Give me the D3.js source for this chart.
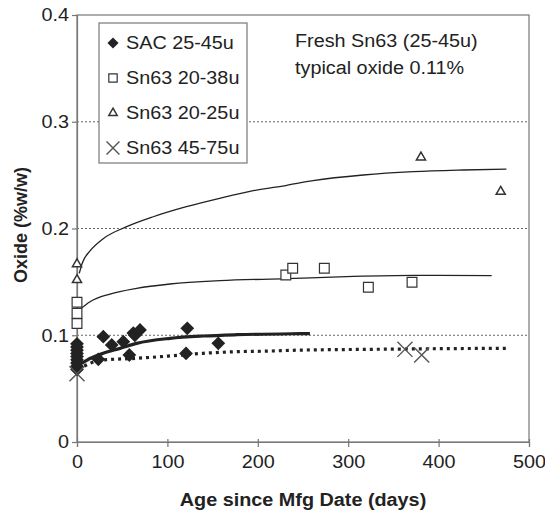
<!DOCTYPE html>
<html><head><meta charset="utf-8">
<script src="https://cdn.jsdelivr.net/npm/d3@7/dist/d3.min.js"></script>
<style>
html,body{margin:0;padding:0;background:#fff;}
svg{display:block;font-family:"Liberation Sans",Arial,Helvetica,sans-serif;}
</style></head>
<body><svg id="c" width="545" height="511"></svg>
<script>
// ---- data ----
const sacDays   = [0,0,0,0,0,0,0,0,0, 23.6,29.1,38.4,51.2,57.9,62.3,64,69.7,120.6,122,156.3];
const sacOxide  = [0.092,0.089,0.086,0.083,0.080,0.077,0.074,0.071,0.068, 0.0775,0.0987,0.0909,0.094,0.0815,0.102,0.100,0.105,0.083,0.1065,0.0924];
const sq2038Days  = [0,0,0, 231,238.6,273.6,322.3,370.6];
const sq2038Oxide = [0.131,0.1205,0.111, 0.1564,0.1627,0.1627,0.145,0.1496];
const tr2025Days  = [0,0, 380.5,468.7];
const tr2025Oxide = [0.1667,0.1518, 0.2667,0.2345];
const x4575Days   = [0, 362.8,381.3];
const x4575Oxide  = [0.064, 0.0868,0.0815];

// trend lines
const fitTrDays  = [2.5,6,14.4,29,55,84.4,121,158,195,232,261,316.7,372,427,475];
const fitTrOxide = [0.158,0.168,0.179,0.1905,0.2017,0.211,0.2204,0.2283,0.2354,0.2405,0.2448,0.2501,0.2532,0.2548,0.2557];
const fitSqDays  = [2.5,14.4,36.5,66,103,158,232,298,372,458.7];
const fitSqOxide = [0.1237,0.1314,0.1386,0.144,0.148,0.1511,0.1530,0.1549,0.1561,0.1558];
const fitSacDays  = [6,10.7,29,47.6,66,103,139.7,176.7,246.7,257.7];
const fitSacOxide = [0.074,0.0765,0.0831,0.0877,0.0924,0.0971,0.0993,0.1005,0.1015,0.1016];
const fitXDays  = [8,14.4,29,66,103,139.7,176.7,213.5,243,324,400,475];
const fitXOxide = [0.071,0.0737,0.0768,0.0784,0.0806,0.0831,0.0846,0.0852,0.0860,0.0868,0.0874,0.0878];

const xTicks = [0,100,200,300,400,500];
const yTicks = [0,0.1,0.2,0.3,0.4];
const gridValues = [0.1,0.2,0.3];
const legendLabels = ["SAC 25-45u","Sn63 20-38u","Sn63 20-25u","Sn63 45-75u"];
const noteLines = ["Fresh Sn63 (25-45u)","typical oxide 0.11%"];
const xTitle = "Age since Mfg Date (days)";
const yTitle = "Oxide (%w/w)";

// ---- layout ----
const L=77, R=529, T=15, B=442;
const STRETCH = 1.1;
const ink = "#222", axisCol="#777";
const svg = d3.select("#c");
const x = d3.scaleLinear().domain([0,500]).range([L,R]);
const y = d3.scaleLinear().domain([0,0.4]).range([B,T]);

// grid
svg.append("g").selectAll("line").data(gridValues).join("line")
  .attr("x1",L).attr("x2",R).attr("y1",d=>y(d)).attr("y2",d=>y(d))
  .attr("stroke","#666").attr("stroke-width",1).attr("stroke-dasharray","2,2");

// frame
svg.append("rect").attr("x",L).attr("y",T).attr("width",R-L).attr("height",B-T)
  .attr("fill","none").attr("stroke",axisCol).attr("stroke-width",1.2);

// axes
const xAxis = svg.append("g").attr("transform",`translate(0,${B})`)
  .call(d3.axisBottom(x).tickValues(xTicks).tickFormat(d3.format("d")).tickSize(5).tickPadding(8));
const yAxis = svg.append("g").attr("transform",`translate(${L},0)`)
  .call(d3.axisLeft(y).tickValues(yTicks).tickFormat(d=>d===0?"0":d3.format(".1f")(d)).tickSize(5).tickPadding(3));
[xAxis,yAxis].forEach(g=>{
  g.select(".domain").attr("stroke",axisCol).attr("stroke-width",1.2);
  g.selectAll(".tick line").attr("stroke",axisCol).attr("stroke-width",1.2);
  g.selectAll(".tick text").attr("fill",ink).attr("font-size",18)
   .attr("font-family","Liberation Sans, Arial, sans-serif").classed("stretch",true);
});
xAxis.selectAll(".tick line").attr("y1",-3);

// legend box
const lg = svg.append("g");
lg.append("rect").attr("x",99).attr("y",23).attr("width",148).attr("height",140)
  .attr("fill","#fff").attr("stroke",axisCol).attr("stroke-width",1.2);

// curves
const line = d3.line().x(d=>x(d[0])).y(d=>y(d[1])).curve(d3.curveMonotoneX);
const zip=(a,b)=>a.map((v,i)=>[v,b[i]]);
svg.append("path").datum(zip(fitTrDays,fitTrOxide)).attr("d",line)
  .attr("fill","none").attr("stroke",ink).attr("stroke-width",1.3);
svg.append("path").datum(zip(fitSqDays,fitSqOxide)).attr("d",line)
  .attr("fill","none").attr("stroke",ink).attr("stroke-width",1.3);
svg.append("path").datum(zip(fitSacDays,fitSacOxide)).attr("d",line)
  .attr("fill","none").attr("stroke",ink).attr("stroke-width",3.2);
svg.append("path").datum(zip(fitXDays,fitXOxide)).attr("d",line)
  .attr("fill","none").attr("stroke",ink).attr("stroke-width",3.2).attr("stroke-dasharray","3,4");

// markers
const diamond = d3.symbol().type(d3.symbolSquare).size(95);
const square = d3.symbol().type(d3.symbolSquare).size(95);
const tri = d3.symbol().type(d3.symbolTriangle).size(36);
const xsym = d3.symbol().type(d3.symbolX).size(150);

svg.append("g").selectAll("path").data(zip(sq2038Days,sq2038Oxide)).join("path")
  .attr("transform",d=>`translate(${x(d[0])},${y(d[1])})`).attr("d",square)
  .attr("fill","#fff").attr("stroke","#333").attr("stroke-width",1.2);
svg.append("g").selectAll("path").data(zip(tr2025Days,tr2025Oxide)).join("path")
  .attr("transform",d=>`translate(${x(d[0])},${y(d[1])})`).attr("d",tri)
  .attr("fill","#fff").attr("stroke","#333").attr("stroke-width",1.5);
svg.append("g").selectAll("path").data(zip(sacDays,sacOxide)).join("path")
  .attr("transform",d=>`translate(${x(d[0])},${y(d[1])}) rotate(45)`).attr("d",diamond)
  .attr("fill",ink);
svg.append("g").selectAll("path").data(zip(x4575Days,x4575Oxide)).join("path")
  .attr("transform",d=>`translate(${x(d[0])},${y(d[1])})`).attr("d",xsym)
  .attr("fill","none").attr("stroke","#555").attr("stroke-width",1.4);

// legend entries
const legSyms = [
  {sym:d3.symbol().type(d3.symbolSquare).size(62), rot:45, fill:ink, stroke:"none", sw:0},
  {sym:d3.symbol().type(d3.symbolSquare).size(70), rot:0, fill:"#fff", stroke:"#333", sw:1.2},
  {sym:d3.symbol().type(d3.symbolTriangle).size(30), rot:0, fill:"#fff", stroke:"#333", sw:1.5},
  {sym:d3.symbol().type(d3.symbolX).size(110), rot:0, fill:"none", stroke:"#555", sw:1.4}
];
legendLabels.forEach((t,i)=>{
  const cy = 43 + i*35;
  lg.append("path").attr("transform",`translate(113,${cy}) rotate(${legSyms[i].rot})`).attr("d",legSyms[i].sym)
    .attr("fill",legSyms[i].fill).attr("stroke",legSyms[i].stroke).attr("stroke-width",legSyms[i].sw);
  lg.append("text").attr("class","stretch").attr("x",126).attr("y",cy+6)
    .attr("font-size",18).attr("fill",ink).text(t);
});

// note
noteLines.forEach((t,i)=>{
  svg.append("text").attr("class","stretch").attr("x",295).attr("y",47+i*27)
    .attr("font-size",18).attr("fill",ink).text(t);
});

// titles
svg.append("text").attr("class","stretch").attr("x",(L+R)/2).attr("y",506)
  .attr("text-anchor","middle").attr("font-size",18).attr("font-weight","bold").attr("fill",ink).text(xTitle);
svg.append("text").attr("transform","translate(27,225) rotate(-90)")
  .attr("text-anchor","middle").attr("font-size",18).attr("font-weight","bold").attr("fill",ink).text(yTitle);

// horizontal stretch of text to match the reference's aspect
svg.selectAll("text.stretch").each(function(){
  const len = this.getComputedTextLength();
  d3.select(this).attr("textLength",len*STRETCH).attr("lengthAdjust","spacingAndGlyphs");
});
</script></body></html>
